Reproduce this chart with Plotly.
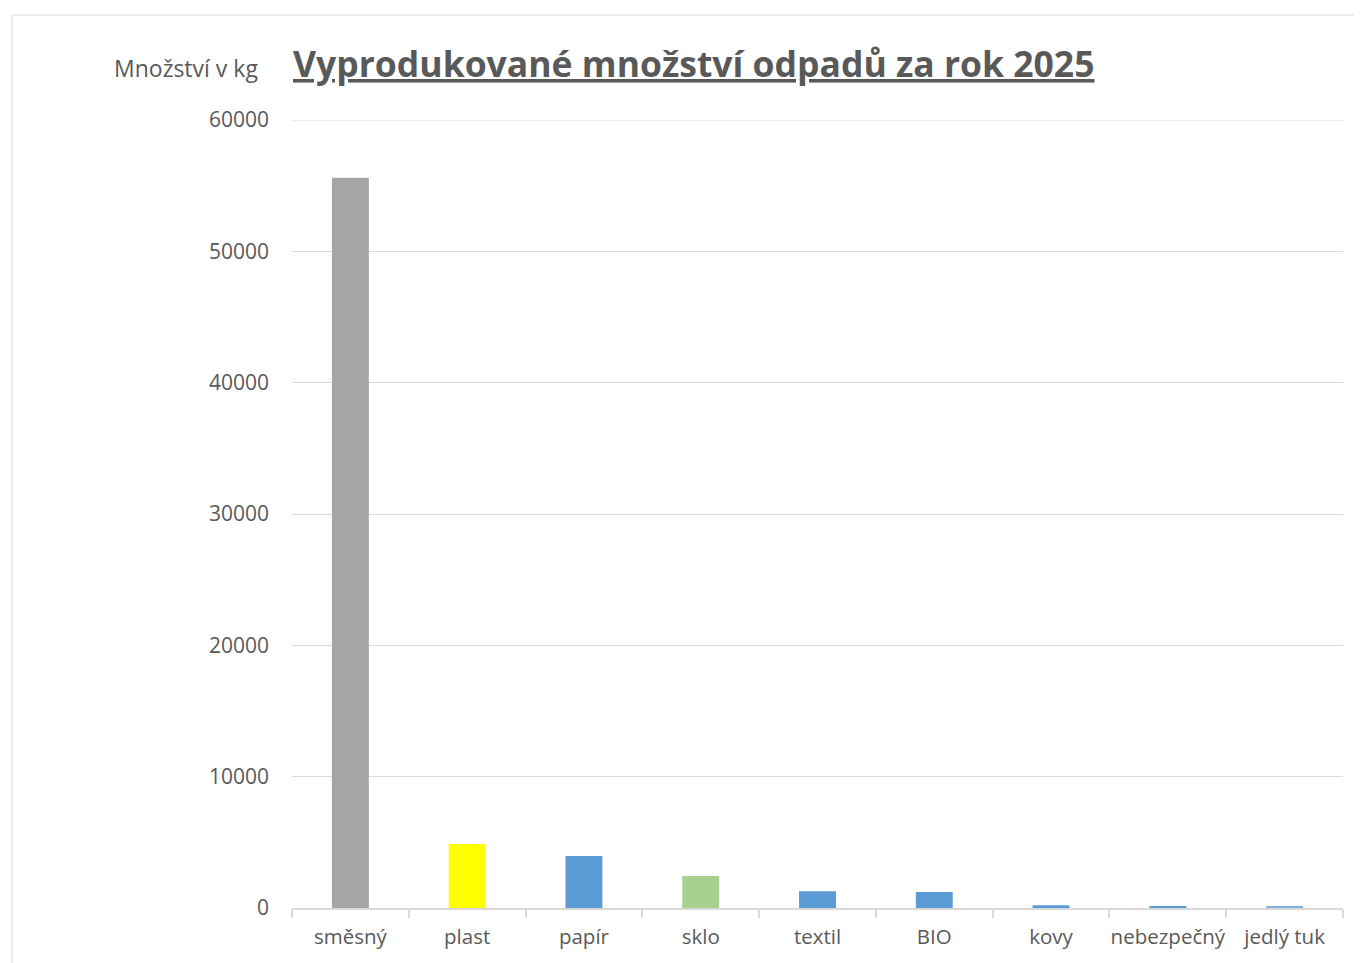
import plotly.graph_objects as go

categories = ["směsný", "plast", "papír", "sklo", "textil", "BIO", "kovy", "nebezpečný", "jedlý tuk"]
values_kg = [55600, 4870, 3960, 2440, 1270, 1220, 205, 150, 150]
bar_colors = ["#A5A5A5", "#FFFF00", "#5B9BD5", "#A9D18E", "#5B9BD5", "#5B9BD5", "#5B9BD5", "#5B9BD5", "#7FAFE0"]
y_ticks = [0, 10000, 20000, 30000, 40000, 50000, 60000]

title_text = "Vyprodukované množství odpadů za rok 2025"
y_title = "Množství v kg"

OFF = 8  # page body margin
W, H = 1362 - OFF, 963 - OFF
L, T = 292 - OFF, 120 - OFF
R = W - (1343 - OFF)
B = H - (908 - OFF)
pw, ph = W - L - R, H - T - B


def px(xabs):
    return (xabs - OFF - L) / pw


def py(yabs):
    return (H - B - (yabs - OFF)) / ph


fig = go.Figure(go.Bar(x=categories, y=values_kg, marker=dict(color=bar_colors, line=dict(width=0)), width=0.316))

font_family = "Open Sans, Noto Sans, sans-serif"
grey = "#595959"

fig.update_layout(
    width=W, height=H,
    margin=dict(l=L, r=R, t=T, b=B, autoexpand=False),
    paper_bgcolor="white", plot_bgcolor="white",
    showlegend=False,
    font=dict(family=font_family, color=grey, size=21),
    xaxis=dict(
        showgrid=False, showline=True, linecolor="#D9D9D9", linewidth=1.5,
        ticks="outside", tickson="boundaries", ticklen=8, tickcolor="#D9D9D9", tickwidth=1.5,
        tickfont=dict(size=20.5, color=grey), zeroline=False, ticklabelstandoff=10,
        tickangle=0, automargin=False,
    ),
    yaxis=dict(
        range=[0, 60000], tickvals=y_ticks, ticktext=[str(v) for v in y_ticks],
        showgrid=True, gridcolor="#D9D9D9", gridwidth=1, zeroline=False,
        showline=False, tickfont=dict(size=21, color=grey), ticks="", ticklabelstandoff=22,
        automargin=False,
    ),
)

fig.add_shape(
    type="line", xref="paper", yref="y", x0=0, x1=1, y0=60000, y1=60000,
    line=dict(color="#D9D9D9", width=1), layer="below",
)

fig.add_annotation(
    text="<b><u>" + title_text + "</u></b>", xref="paper", yref="paper",
    x=px(291), y=py(63), xanchor="left", yanchor="middle",
    showarrow=False, font=dict(size=35.5, color=grey, family=font_family),
)
fig.add_annotation(
    text=y_title, xref="paper", yref="paper",
    x=px(260), y=py(68), xanchor="right", yanchor="middle",
    showarrow=False, font=dict(size=23, color=grey, family=font_family),
)
fig.add_shape(
    type="rect", xref="paper", yref="paper",
    x0=px(12), x1=px(1380), y0=py(1000), y1=py(15),
    line=dict(color="#D9D9D9", width=1), fillcolor="rgba(0,0,0,0)", layer="below",
)

fig.write_html("out.html")
